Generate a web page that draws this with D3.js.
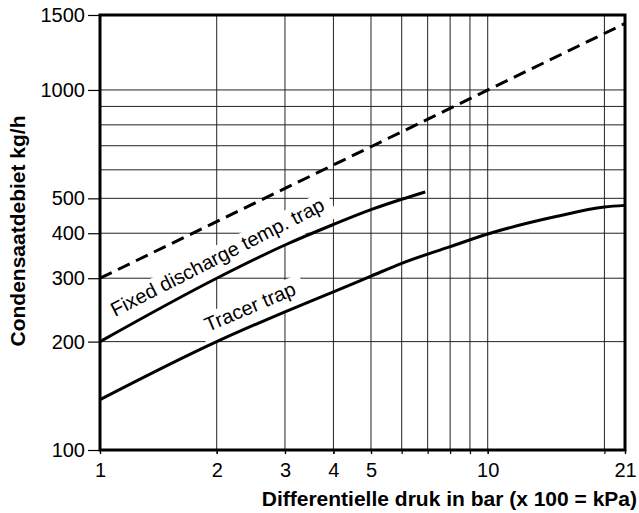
<!DOCTYPE html>
<html>
<head>
<meta charset="utf-8">
<script src="https://cdn.jsdelivr.net/npm/d3@7"></script>
<style>
  body { margin: 0; background: #fff; }
  svg { font-family: "Liberation Sans", Arial, sans-serif; }
  .grid line { stroke: #222; stroke-width: 1; }
  .axis path { display: none; }
  .axis line { stroke: #000; stroke-width: 1.2; }
  .axis text { font-size: 20px; fill: #000; }
</style>
</head>
<body>
<svg id="chart" width="639" height="513"></svg>
<script>
// waarden
var xDomain = [1, 22.6];
var yDomain = [100, 1615];
var xGrid = [2, 3, 4, 5, 6, 7, 8, 9, 10, 20];
var yGrid = [200, 300, 400, 500, 600, 700, 800, 900, 1000];
var xTickValues = [1, 2, 3, 4, 5, 10, 22.6];
var xTickLabels = ['1', '2', '3', '4', '5', '10', '21'];
var yTickValues = [100, 200, 300, 400, 500, 1000, 1615];
var yTickLabels = ['100', '200', '300', '400', '500', '1000', '1500'];

var fixedX = [1, 2, 3, 4, 5, 6, 6.9];
var fixedY = [200, 300, 371, 423, 465, 497, 521];
var tracerX = [1, 2, 3, 4, 5, 6, 8, 10, 15, 20, 22.6];
var tracerY = [138, 200, 242, 275, 304, 330, 367, 398, 445, 473, 478];
var dashX = [1, 22.6];
var dashY = [300, 1530];

// marges
var margin = {top: 15, right: 14, bottom: 63, left: 100},
  width = 639 - margin.left - margin.right,
  height = 513 - margin.top - margin.bottom;

var x = d3.scaleLog().domain(xDomain).range([0, width]);
var y = d3.scaleLog().domain(yDomain).range([height, 0]);

var svg = d3.select('#chart');
var g = svg.append('g')
  .attr('transform', 'translate(' + margin.left + ',' + margin.top + ')');

// rasterlijnen
g.append('g').attr('class', 'grid')
  .selectAll('line.v').data(xGrid).enter().append('line')
  .attr('x1', function(d) { return x(d); })
  .attr('x2', function(d) { return x(d); })
  .attr('y1', 0).attr('y2', height);
g.select('.grid')
  .selectAll('line.h').data(yGrid).enter().append('line')
  .attr('x1', 0).attr('x2', width)
  .attr('y1', function(d) { return y(d); })
  .attr('y2', function(d) { return y(d); });

// witte vlakken achter de labels
function labelBox(px, py, angle, len) {
  g.append('rect')
    .attr('x', -6).attr('y', -18)
    .attr('width', len + 14).attr('height', 30)
    .attr('fill', '#fff')
    .attr('transform', 'translate(' + px + ',' + py + ') rotate(' + angle + ')');
}
var fixedPos = [15, 302], tracerPos = [108, 317];
labelBox(fixedPos[0], fixedPos[1], -27, 237);
labelBox(tracerPos[0], tracerPos[1], -23, 98);

// assen
g.append('g').attr('class', 'axis')
  .attr('transform', 'translate(0,' + height + ')')
  .call(d3.axisBottom(x).tickValues(xGrid.concat([1, 22.6])).tickSize(4).tickFormat(''));
g.append('g').attr('class', 'axis')
  .attr('transform', 'translate(0,' + height + ')')
  .call(d3.axisBottom(x).tickValues(xTickValues).tickSize(4).tickPadding(9)
    .tickFormat(function(d, i) { return xTickLabels[i]; }));
g.append('g').attr('class', 'axis')
  .call(d3.axisLeft(y).tickValues(yTickValues).tickSize(12).tickPadding(3)
    .tickFormat(function(d, i) { return yTickLabels[i]; }));

// curven
var line = d3.line()
  .x(function(d) { return x(d[0]); })
  .y(function(d) { return y(d[1]); })
  .curve(d3.curveMonotoneX);

function pairs(xs, ys) { return xs.map(function(v, i) { return [v, ys[i]]; }); }

g.append('path').datum(pairs(dashX, dashY))
  .attr('d', line).attr('fill', 'none')
  .attr('stroke', '#000').attr('stroke-width', 3)
  .attr('stroke-dasharray', '13,7');
g.append('path').datum(pairs(fixedX, fixedY))
  .attr('d', line).attr('fill', 'none')
  .attr('stroke', '#000').attr('stroke-width', 3);
g.append('path').datum(pairs(tracerX, tracerY))
  .attr('d', line).attr('fill', 'none')
  .attr('stroke', '#000').attr('stroke-width', 3);

// kader
g.append('rect')
  .attr('width', width).attr('height', height)
  .attr('fill', 'none').attr('stroke', '#000').attr('stroke-width', 3);

// curvelabels
g.append('text')
  .attr('transform', 'translate(' + fixedPos[0] + ',' + fixedPos[1] + ') rotate(-27)')
  .style('font-size', '20px')
  .text('Fixed discharge temp. trap');
g.append('text')
  .attr('transform', 'translate(' + tracerPos[0] + ',' + tracerPos[1] + ') rotate(-23)')
  .style('font-size', '20px')
  .text('Tracer trap');

// astitels
svg.append('text')
  .attr('transform', 'translate(25,231) rotate(-90)')
  .attr('text-anchor', 'middle')
  .style('font-size', '21px').style('font-weight', 'bold')
  .text('Condensaatdebiet kg/h');
svg.append('text')
  .attr('x', 637).attr('y', 506)
  .attr('text-anchor', 'end')
  .style('font-size', '21px').style('font-weight', 'bold')
  .text('Differentielle druk in bar (x 100 = kPa)');
</script>
</body>
</html>
